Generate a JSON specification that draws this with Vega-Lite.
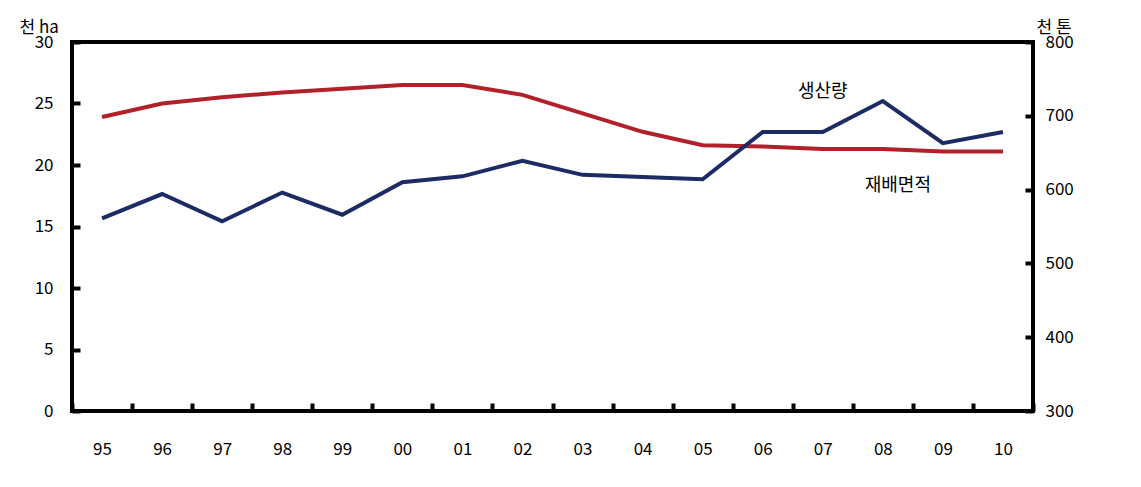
{
  "$schema": "https://vega.github.io/schema/vega-lite/v6.json",
  "width": 961,
  "height": 369,
  "autosize": {"type": "none"},
  "padding": {"left": 72, "top": 42, "right": 108, "bottom": 76},
  "background": "white",
  "config": {
    "view": {"stroke": "black", "strokeWidth": 4},
    "font": "Noto Sans CJK KR",
    "axis": {"labelFont": "Noto Sans CJK KR", "labelFontSize": 17, "labelColor": "black", "titleFont": "Noto Sans CJK KR", "titleFontSize": 17, "titleFontWeight": "normal", "titleColor": "black", "grid": false, "domain": false, "tickColor": "black", "tickWidth": 4}
  },
  "data": {"values": [
    {"year": "95", "area": 23.9, "prod": 561},
    {"year": "96", "area": 25.0, "prod": 594},
    {"year": "97", "area": 25.5, "prod": 557},
    {"year": "98", "area": 25.9, "prod": 596},
    {"year": "99", "area": 26.2, "prod": 566},
    {"year": "00", "area": 26.5, "prod": 610},
    {"year": "01", "area": 26.5, "prod": 618},
    {"year": "02", "area": 25.7, "prod": 639},
    {"year": "03", "area": 24.2, "prod": 620},
    {"year": "04", "area": 22.7, "prod": 617},
    {"year": "05", "area": 21.6, "prod": 614},
    {"year": "06", "area": 21.5, "prod": 678},
    {"year": "07", "area": 21.3, "prod": 678},
    {"year": "08", "area": 21.3, "prod": 720},
    {"year": "09", "area": 21.1, "prod": 663},
    {"year": "10", "area": 21.1, "prod": 678}
  ]},
  "encoding": {
    "x": {"field": "year", "type": "ordinal", "sort": null, "scale": {"paddingInner": 0, "paddingOuter": 0},
      "axis": {"title": null, "labelAngle": 0, "tickBand": "extent", "tickSize": -8, "labelPadding": 38}}
  },
  "layer": [
    {
      "mark": {"type": "line", "color": "#B2202A", "strokeWidth": 4},
      "encoding": {
        "y": {"field": "area", "type": "quantitative", "scale": {"domain": [0, 30]},
          "axis": {"orient": "left", "values": [0, 5, 10, 15, 20, 25, 30], "tickSize": -8, "labelPadding": 27, "title": "천 ha", "titleAngle": 0, "titleX": -53, "titleY": -6, "titleAlign": "left", "titleBaseline": "bottom"}}
      }
    },
    {
      "mark": {"type": "line", "color": "#1C2B63", "strokeWidth": 4},
      "encoding": {
        "y": {"field": "prod", "type": "quantitative", "scale": {"domain": [300, 800]},
          "axis": {"orient": "right", "values": [300, 400, 500, 600, 700, 800], "tickSize": -8, "labelPadding": 20, "title": "천 톤", "titleAngle": 0, "titleX": 3, "titleY": -6, "titleAlign": "left", "titleBaseline": "bottom"}}
      }
    },
    {
      "data": {"values": [{"year": "07", "v": 732, "t": "생산량"}]},
      "mark": {"type": "text", "fontSize": 18, "font": "Noto Sans CJK KR", "color": "black"},
      "encoding": {"text": {"field": "t"}, "y": {"field": "v", "type": "quantitative", "scale": {"domain": [300, 800]}, "axis": null}}
    },
    {
      "data": {"values": [{"year": "08", "v": 18.3, "t": "재배면적"}]},
      "mark": {"type": "text", "fontSize": 18, "font": "Noto Sans CJK KR", "color": "black", "dx": 15},
      "encoding": {"text": {"field": "t"}, "y": {"field": "v", "type": "quantitative", "scale": {"domain": [0, 30]}, "axis": null}}
    }
  ],
  "resolve": {"scale": {"y": "independent"}}
}
